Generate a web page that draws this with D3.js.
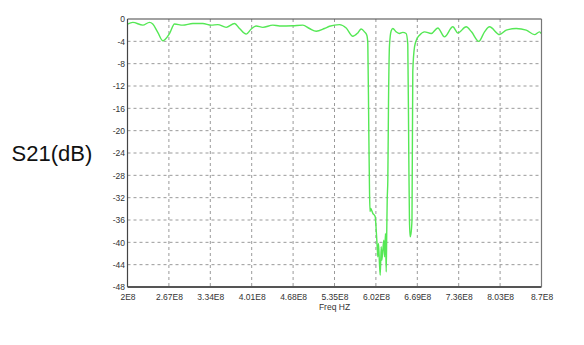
<!DOCTYPE html>
<html><head><meta charset="utf-8">
<script src="https://cdn.jsdelivr.net/npm/d3@7/dist/d3.min.js"></script>
<style>body{margin:0;background:#fff;}svg{display:block;}</style>
</head><body>
<script>
// frequency in units of 1E8 Hz
const freq = [2.0,2.086,2.248,2.356,2.409,2.49,2.571,2.68,2.761,2.895,3.057,3.219,3.355,3.461,3.597,3.732,3.813,3.921,4.002,4.083,4.19,4.352,4.46,4.675,4.837,4.946,5.054,5.188,5.269,5.431,5.539,5.646,5.727,5.782,5.836,5.873,5.889,5.905,5.917,5.925,5.933,5.97,6.009,6.025,6.041,6.051,6.062,6.078,6.09,6.106,6.116,6.132,6.148,6.159,6.175,6.187,6.196,6.203,6.213,6.224,6.24,6.268,6.294,6.349,6.402,6.455,6.509,6.536,6.552,6.563,6.574,6.587,6.604,6.617,6.645,6.682,6.726,6.807,6.915,7.022,7.13,7.265,7.346,7.482,7.567,7.686,7.778,7.859,8.021,8.129,8.291,8.453,8.587,8.668,8.695];
const s21 = [-0.9,-0.6,-1.1,-0.6,-0.9,-2.4,-3.9,-2.6,-0.9,-1.1,-0.8,-0.8,-1.1,-1.0,-1.5,-0.8,-1.7,-2.7,-1.8,-1.25,-1.5,-1.1,-1.25,-1.2,-1.1,-1.7,-2.2,-1.7,-1.3,-1.0,-1.6,-3.1,-2.5,-1.8,-2.3,-2.9,-4.3,-20,-31,-34.5,-33.9,-34.8,-35.4,-37.8,-40.8,-42.6,-40.2,-43.8,-45.9,-40.8,-43.2,-41.4,-39.6,-42.6,-38.4,-45.3,-37.8,-32.4,-28.8,-15,-4.7,-2.1,-1.7,-2.3,-2.6,-2.4,-2.6,-4.5,-24,-36,-39,-38.5,-36,-9.4,-5,-3.6,-2.9,-2.3,-2.6,-1.6,-3.2,-1.4,-2.5,-1.4,-2.3,-4.0,-2.3,-1.4,-2.8,-2.0,-1.7,-2.0,-2.8,-2.3,-2.6];
const xTickValues = [2.0,2.67,3.34,4.01,4.68,5.35,6.02,6.69,7.36,8.03,8.7];
const xTickLabels = ["2E8","2.67E8","3.34E8","4.01E8","4.68E8","5.35E8","6.02E8","6.69E8","7.36E8","8.03E8","8.7E8"];
const yTickValues = [0,-4,-8,-12,-16,-20,-24,-28,-32,-36,-40,-44,-48];
const yTickLabels = ["0","-4","-8","-12","-16","-20","-24","-28","-32","-36","-40","-44","-48"];
const yTitle = "S21(dB)";
const xTitle = "Freq HZ";

const W = 584, H = 345;
const L = 127.5, R = 541.5, T = 19, B = 287;
const svg = d3.select("body").append("svg").attr("width", W).attr("height", H);
const x = d3.scaleLinear().domain([2.0, 8.7]).range([L, R]);
const y = d3.scaleLinear().domain([-48, 0]).range([B, T]);

// grid
const grid = svg.append("g");
grid.selectAll(".vg").data(xTickValues.slice(1, -1)).enter().append("line")
  .attr("x1", d => x(d)).attr("x2", d => x(d)).attr("y1", T).attr("y2", B)
  .attr("stroke", "#9a9a9a").attr("stroke-width", 1).attr("stroke-dasharray", "3,3");
grid.selectAll(".hg").data(yTickValues.slice(1, -1)).enter().append("line")
  .attr("x1", L).attr("x2", R).attr("y1", d => y(d)).attr("y2", d => y(d))
  .attr("stroke", "#9a9a9a").attr("stroke-width", 1).attr("stroke-dasharray", "3,3");

// axes (labels only)
const xAxis = d3.axisBottom(x).tickValues(xTickValues).tickSize(0).tickPadding(0)
  .tickFormat((d, i) => xTickLabels[i]);
const gx = svg.append("g").attr("transform", `translate(0,${B + 13})`).call(xAxis);
gx.select(".domain").remove();
gx.selectAll("text").attr("font-family", "Liberation Sans, Arial, sans-serif").attr("font-size", "8.5px").attr("fill", "#333").attr("dy", "0");

const yAxis = d3.axisLeft(y).tickValues(yTickValues).tickSize(0).tickPadding(0)
  .tickFormat((d, i) => yTickLabels[i]);
const gy = svg.append("g").attr("transform", `translate(${L - 2.5},0)`).call(yAxis);
gy.select(".domain").remove();
gy.selectAll("text").attr("font-family", "Liberation Sans, Arial, sans-serif").attr("font-size", "8.5px").attr("fill", "#333");

// curve
const pts = freq.map((f, i) => [f, s21[i]]);
svg.append("path").datum(pts)
  .attr("d", d3.line().x(d => x(d[0])).y(d => y(d[1])).curve(d3.curveMonotoneX))
  .attr("fill", "none").attr("stroke", "#55e855").attr("stroke-width", 1.4);

// frame
svg.append("line").attr("x1", L).attr("x2", R).attr("y1", T).attr("y2", T).attr("stroke", "#444").attr("stroke-width", 1.2);
svg.append("line").attr("x1", L).attr("x2", L).attr("y1", T).attr("y2", B).attr("stroke", "#444").attr("stroke-width", 1.2);
svg.append("line").attr("x1", L).attr("x2", R).attr("y1", B).attr("y2", B).attr("stroke", "#555").attr("stroke-width", 1.8);
svg.append("line").attr("x1", R).attr("x2", R).attr("y1", T).attr("y2", B).attr("stroke", "#777").attr("stroke-width", 1.2);

// titles
svg.append("text").attr("x", (L + R) / 2).attr("y", 310).attr("text-anchor", "middle")
  .attr("font-family", "Liberation Sans, Arial, sans-serif").attr("font-size", "8.5px").attr("fill", "#333").text(xTitle);
svg.append("text").attr("x", 11.5).attr("y", 161)
  .attr("font-family", "Liberation Sans, Arial, sans-serif").attr("font-size", "22px").attr("fill", "#111").text(yTitle);
</script>
</body></html>
